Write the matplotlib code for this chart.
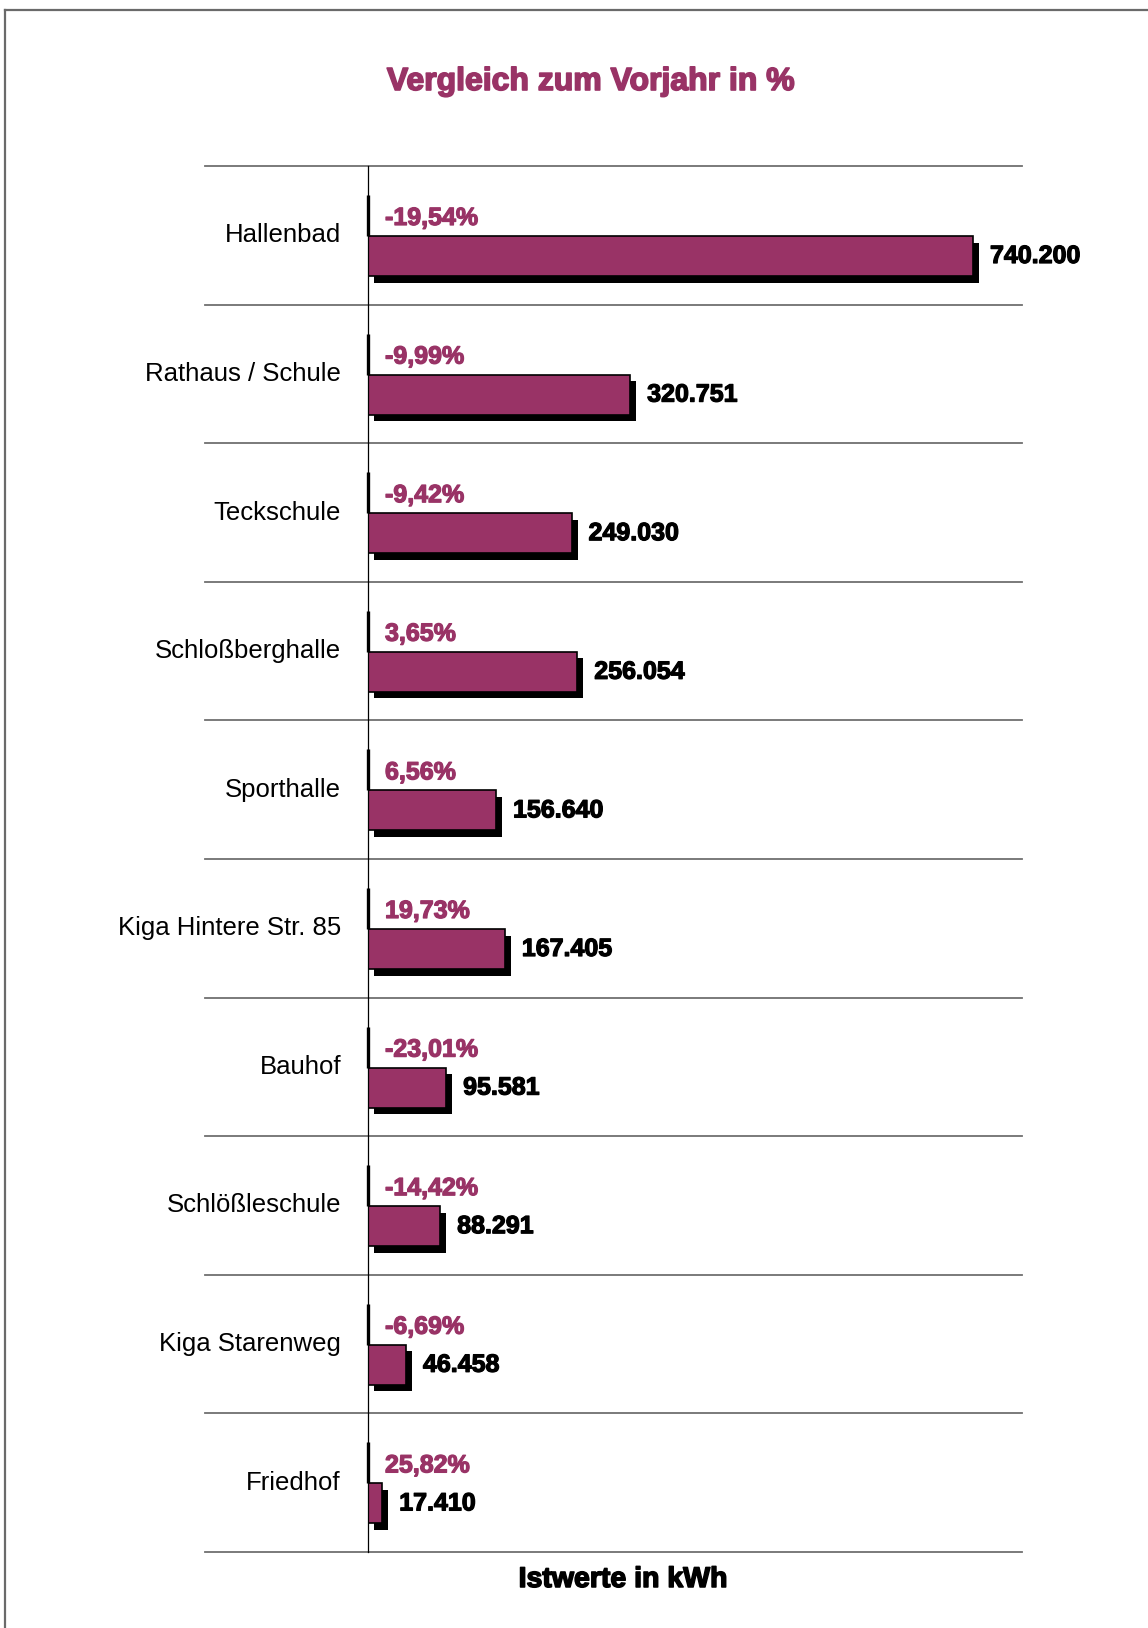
import matplotlib
matplotlib.use("Agg")
import matplotlib.pyplot as plt
from matplotlib.lines import Line2D
from matplotlib.patches import Rectangle
import matplotlib.patheffects as pe

categories = ["Hallenbad", "Rathaus / Schule", "Teckschule", "Schloßberghalle",
              "Sporthalle", "Kiga Hintere Str. 85", "Bauhof", "Schlößleschule",
              "Kiga Starenweg", "Friedhof"]
values_kwh = [740200, 320751, 249030, 256054, 156640, 167405, 95581, 88291, 46458, 17410]
change_pct = [-19.54, -9.99, -9.42, 3.65, 6.56, 19.73, -23.01, -14.42, -6.69, 25.82]

title = "Vergleich zum Vorjahr in %"
xlabel = "Istwerte in kWh"

BAR = "#993366"
GRID = "#707070"
FONT = ["Liberation Sans", "DejaVu Sans"]

W, H = 1148, 1628
fig = plt.figure(figsize=(W / 100, H / 100), dpi=100)

ax_left, ax_right = 368, 1022
ax_top, ax_bot = 166, 1552
ax = fig.add_axes([ax_left / W, 1 - ax_bot / H, (ax_right - ax_left) / W, (ax_bot - ax_top) / H])

px_per_kwh = 605 / 740200.0
xmax = (ax_right - ax_left) / px_per_kwh
n = len(categories)
ax.set_xlim(0, xmax)
ax.set_ylim(n, 0)
ax.axis("off")

row_px = (ax_bot - ax_top) / n
def ypx(p):
    return p / row_px
def xpx(p):
    return p / px_per_kwh

def heavy(color, w=0.9):
    return [pe.withStroke(linewidth=w, foreground=color)]

# gridlines
grid_left = xpx(205 - ax_left)
for i in range(n + 1):
    ax.plot([grid_left, xmax], [i, i], color=GRID, lw=1.3, clip_on=False, zorder=1)

# axis line
ax.plot([0, 0], [0, n], color="black", lw=0.9, clip_on=False, zorder=4)

bar_top = ypx(70)
bar_h = ypx(40)
dx, dy = xpx(6), ypx(6.5)

for i, (cat, v, pct) in enumerate(zip(categories, values_kwh, change_pct)):
    ax.add_patch(Rectangle((dx, i + bar_top + dy), v, bar_h, facecolor="black",
                           edgecolor="none", zorder=2))
    ax.add_patch(Rectangle((0, i + bar_top), v, bar_h, facecolor=BAR,
                           edgecolor="black", lw=1.2, zorder=3))
    ax.plot([0, 0], [i + ypx(29), i + bar_top], color="black", lw=2.4,
            solid_capstyle="butt", clip_on=False, zorder=5)
    ax.text(xpx(341 - ax_left), i + 0.5, cat, ha="right", va="center",
            fontsize=18.5, family=FONT, color="black", clip_on=False)
    pct_txt = f"{pct:.2f}".replace(".", ",") + "%"
    ax.text(xpx(17), i + ypx(52), pct_txt, ha="left", va="center",
            fontsize=18, family=FONT, fontweight="bold", color=BAR,
            path_effects=heavy(BAR))
    val_txt = f"{v:,}".replace(",", ".")
    ax.text(v + xpx(17), i + bar_top + bar_h / 2, val_txt, ha="left", va="center",
            fontsize=18, family=FONT, fontweight="bold", color="black", clip_on=False,
            path_effects=heavy("black"))

fig.text(591 / W, 1 - 90 / H, title, ha="center", va="baseline",
         fontsize=23, family=FONT, fontweight="bold", color=BAR,
         path_effects=heavy(BAR, 1.2))
fig.text(623 / W, 1 - 1587 / H, xlabel, ha="center", va="baseline",
         fontsize=20.5, family=FONT, fontweight="bold", color="black",
         path_effects=heavy("black", 1.1))

# frame
fig.add_artist(Line2D([5 / W, 1], [1 - 10 / H, 1 - 10 / H], color="#6a6a6a", lw=1.6,
                      transform=fig.transFigure))
fig.add_artist(Line2D([5 / W, 5 / W], [0, 1 - 10 / H], color="#6a6a6a", lw=1.6,
                      transform=fig.transFigure))

fig.savefig("out.png", dpi=100)
